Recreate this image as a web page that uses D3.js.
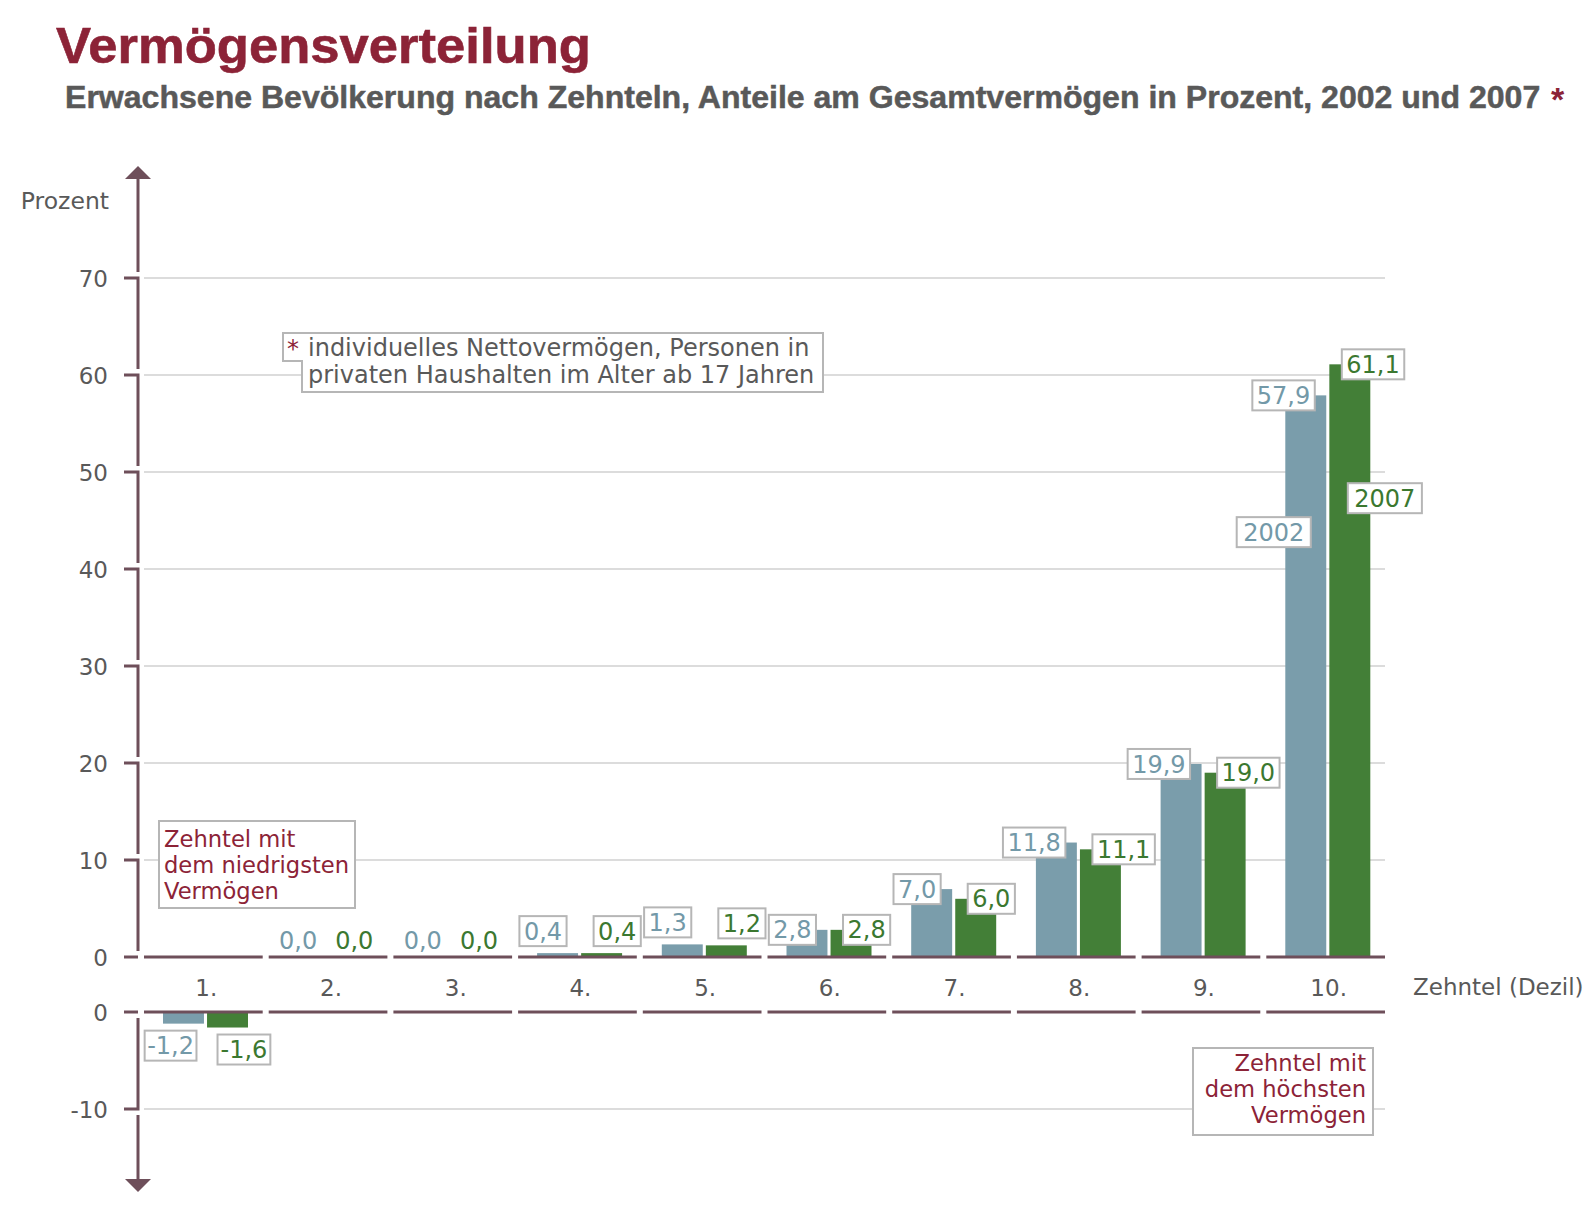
<!DOCTYPE html>
<html><head><meta charset="utf-8">
<script src="https://cdn.jsdelivr.net/npm/d3@7/dist/d3.min.js"></script>
<style>body{margin:0;background:#fff} svg{display:block}</style>
</head><body><svg id="c" width="1592" height="1212"></svg>
<script>
// ---- data ----
const categories = ["1.","2.","3.","4.","5.","6.","7.","8.","9.","10."];
const series = ["2002","2007"];
const values2002 = [-1.2, 0.0, 0.0, 0.4, 1.3, 2.8, 7.0, 11.8, 19.9, 57.9];
const values2007 = [-1.6, 0.0, 0.0, 0.4, 1.2, 2.8, 6.0, 11.1, 19.0, 61.1];
const upperTicks = [0, 10, 20, 30, 40, 50, 60, 70];
const lowerTicks = [0, -10];
const titleText = "Vermögensverteilung";
const subtitleText = "Erwachsene Bevölkerung nach Zehnteln, Anteile am Gesamtvermögen in Prozent, 2002 und 2007";
const footnoteLines = ["individuelles Nettovermögen, Personen in", "privaten Haushalten im Alter ab 17 Jahren"];
const noteLowLines = ["Zehntel mit", "dem niedrigsten", "Vermögen"];
const noteHighLines = ["Zehntel mit", "dem höchsten", "Vermögen"];
const yAxisLabel = "Prozent";
const xAxisLabel = "Zehntel (Dezil)";

// ---- styles ----
const COL = {
  crimson: "#8c2337", gray: "#595959", axis: "#6e4f5a", grid: "#dcdcdc", box: "#b6b6b6",
  bar: {"2002": "#7a9dab", "2007": "#437f37"},
  txt: {"2002": "#7399a8", "2007": "#3b7830"}
};
const FONT = "'DejaVu Sans', Verdana, sans-serif";
const HEAD = "'Liberation Sans', Arial, sans-serif";

const svg = d3.select("#c");
const x = d3.scaleBand().domain(categories).range([141, 1388]).padding(0);
const xs = d3.scaleBand().domain(series).range([22, 107]).paddingInner(0.07).paddingOuter(0);
const y = d3.scaleLinear().domain([0, 70]).range([957, 278]);
const y2 = d3.scaleLinear().domain([-10, 0]).range([1109, 1012]);
const bw = x.bandwidth();
const gridX0 = x.range()[0] + 3, gridX1 = x.range()[1] - 3;

const rows = categories.map((c, i) => ({cat: c, vals: {"2002": values2002[i], "2007": values2007[i]}}));
const fmt = v => d3.format(".1f")(v).replace("\u2212", "-").replace(".", ",");

// ---- title ----
svg.append("text").attr("x", 56).attr("y", 63).attr("font-family", HEAD).attr("font-weight", "bold")
  .attr("font-size", 50).attr("fill", COL.crimson).attr("stroke", COL.crimson).attr("stroke-width", 0.6)
  .attr("textLength", 535).attr("lengthAdjust", "spacingAndGlyphs")
  .text(titleText);
const sub = svg.append("text").attr("x", 65).attr("y", 108).attr("font-family", HEAD).attr("font-weight", "bold")
  .attr("font-size", 33).attr("fill", COL.gray).attr("stroke", COL.gray).attr("stroke-width", 0.5)
  .text(subtitleText);
const subW = sub.node().getComputedTextLength();
const subFs = 33 * 1476 / subW;
sub.attr("font-size", subFs);
svg.append("text").attr("x", 65 + 1476 + 10).attr("y", 111).attr("font-family", HEAD).attr("font-weight", "bold")
  .attr("font-size", 34).attr("fill", COL.crimson).text("*");

// ---- gridlines ----
const grid = svg.append("g").attr("stroke", COL.grid).attr("stroke-width", 2);
upperTicks.filter(t => t !== 0).forEach(t => grid.append("line").attr("x1", gridX0).attr("x2", gridX1).attr("y1", y(t)).attr("y2", y(t)));
lowerTicks.filter(t => t !== 0).forEach(t => grid.append("line").attr("x1", gridX0).attr("x2", gridX1).attr("y1", y2(t)).attr("y2", y2(t)));

// ---- footnote box ----
const fn = svg.append("g");
fn.append("path").attr("d", "M283,333 H823 V392 H302 V361 H283 Z").attr("fill", "#fff")
  .attr("stroke", COL.box).attr("stroke-width", 2);
fn.append("text").attr("x", 287).attr("y", 357).attr("font-family", FONT).attr("font-size", 24).attr("fill", COL.crimson).text("*");
footnoteLines.forEach((l, i) => fn.append("text").attr("x", 308).attr("y", 356 + i * 27)
  .attr("font-family", FONT).attr("font-size", 24).attr("fill", COL.gray).text(l));

// ---- bars ----
const bars = svg.append("g");
rows.forEach(r => {
  series.forEach(s => {
    const v = r.vals[s];
    if (v === 0) return;
    const bx = x(r.cat) + xs(s);
    if (v > 0) {
      bars.append("rect").attr("x", bx).attr("width", xs.bandwidth()).attr("y", y(v)).attr("height", y(0) - y(v)).attr("fill", COL.bar[s]);
    } else {
      bars.append("rect").attr("x", bx).attr("width", xs.bandwidth()).attr("y", y2(0)).attr("height", y2(v) - y2(0)).attr("fill", COL.bar[s]);
    }
  });
});

// ---- baselines (segmented) ----
const base = svg.append("g").attr("stroke", COL.axis).attr("stroke-width", 3);
[y(0), y2(0)].forEach(yy => {
  categories.forEach(c => base.append("line").attr("x1", x(c) + 3).attr("x2", x(c) + bw - 3).attr("y1", yy).attr("y2", yy));
});

// ---- vertical axis ----
const ax = svg.append("g").attr("fill", "none").attr("stroke", COL.axis).attr("stroke-width", 3).attr("stroke-linejoin", "miter");
const axX = 138, stubX = 124, gap = 6;
const topT = d3.max(upperTicks);
ax.append("path").attr("d", `M${axX},179 V${y(topT) - gap}`);
upperTicks.forEach(t => {
  if (t === 0) ax.append("path").attr("d", `M${stubX},${y(0)} H${axX}`);
  else ax.append("path").attr("d", `M${stubX},${y(t)} H${axX} V${y(t - 10) - gap}`);
});
ax.append("path").attr("d", `M${stubX},${y2(0)} H${axX}`);
ax.append("path").attr("d", `M${axX},${y2(0) + gap} V${y2(-10)} H${stubX}`);
ax.append("path").attr("d", `M${axX},${y2(-10) + gap} V1179`);
svg.append("path").attr("d", `M${axX - 13},179 L${axX + 13},179 L${axX},166 Z`).attr("fill", COL.axis);
svg.append("path").attr("d", `M${axX - 13},1179 L${axX + 13},1179 L${axX},1192 Z`).attr("fill", COL.axis);

// ---- axis labels ----
const tl = svg.append("g").attr("font-family", FONT).attr("font-size", 23).attr("fill", COL.gray);
upperTicks.forEach(t => tl.append("text").attr("x", 108).attr("y", y(t) + 8.5).attr("text-anchor", "end").text(t));
lowerTicks.forEach(t => tl.append("text").attr("x", 108).attr("y", y2(t) + 8.5).attr("text-anchor", "end").text(String(t).replace("\u2212", "-")));
categories.forEach(c => tl.append("text").attr("x", x(c) + bw / 2 + 3).attr("y", 996).attr("text-anchor", "middle").text(c));
tl.append("text").attr("x", 109).attr("y", 209).attr("text-anchor", "end").attr("font-size", 23.5).text(yAxisLabel);
tl.append("text").attr("x", 1413).attr("y", 995).text(xAxisLabel);

// ---- value labels ----
const lab = svg.append("g").attr("font-family", FONT);
function boxed(txt, ax0, side, cy, color, pad, withBox, fs) {
  const g = lab.append("g");
  const rect = withBox ? g.append("rect") : null;
  const t = g.append("text").attr("font-size", fs).attr("fill", color).text(txt);
  const w = t.node().getComputedTextLength();
  const left = side === "right" ? ax0 - w - 2 * pad : ax0;
  t.attr("x", left + pad).attr("y", cy + 0.36 * fs);
  if (rect) rect.attr("x", left).attr("y", cy - 15).attr("width", w + 2 * pad).attr("height", 30)
    .attr("fill", "#fff").attr("stroke", COL.box).attr("stroke-width", 2);
}
rows.forEach(r => {
  series.forEach((s, si) => {
    const v = r.vals[s];
    const cx = x(r.cat) + xs(s) + xs.bandwidth() / 2;
    let cy;
    if (v < 0) cy = y2(v) + 22;
    else if (v === 0) cy = y(0) - 17;
    else if (v < 2.5) cy = y(v) - 22;
    else cy = y(v);
    if (v === 0) {
      if (si === 0) boxed(fmt(v), cx + 9, "right", cy, COL.txt[s], 0, false, 24);
      else boxed(fmt(v), cx - 17, "left", cy, COL.txt[s], 0, false, 24);
    } else if (v < 0) {
      if (si === 0) boxed(fmt(v), cx + 13, "right", cy, COL.txt[s], 2.5, true, 24);
      else boxed(fmt(v), cx - 10, "left", cy, COL.txt[s], 3, true, 24);
    } else {
      if (si === 0) boxed(fmt(v), cx + 9, "right", cy, COL.txt[s], 4.5, true, 24);
      else boxed(fmt(v), cx - 8, "left", cy, COL.txt[s], 4.5, true, 24);
    }
  });
});

// ---- series legend labels (inside last category) ----
const lastCat = categories[categories.length - 1];
const legendY = {"2002": y(43.8), "2007": y(47.3)};
series.forEach((s, si) => {
  const cx = x(lastCat) + xs(s) + xs.bandwidth() / 2;
  if (si === 0) boxed(s, cx + 5, "right", legendY[s], COL.txt[s], 6.5, true, 24);
  else boxed(s, cx - 2, "left", legendY[s], COL.txt[s], 6.5, true, 24);
});

// ---- annotation boxes ----
const ann = svg.append("g").attr("font-family", FONT).attr("font-size", 22.6).attr("fill", COL.crimson);
ann.append("rect").attr("x", 159).attr("y", 821).attr("width", 196).attr("height", 87)
  .attr("fill", "#fff").attr("stroke", COL.box).attr("stroke-width", 2);
noteLowLines.forEach((l, i) => ann.append("text").attr("x", 164).attr("y", 847 + i * 26).text(l));
ann.append("rect").attr("x", 1193).attr("y", 1048).attr("width", 180).attr("height", 87)
  .attr("fill", "#fff").attr("stroke", COL.box).attr("stroke-width", 2);
noteHighLines.forEach((l, i) => ann.append("text").attr("x", 1366).attr("y", 1071 + i * 26).attr("text-anchor", "end").text(l));
</script>
</body></html>
